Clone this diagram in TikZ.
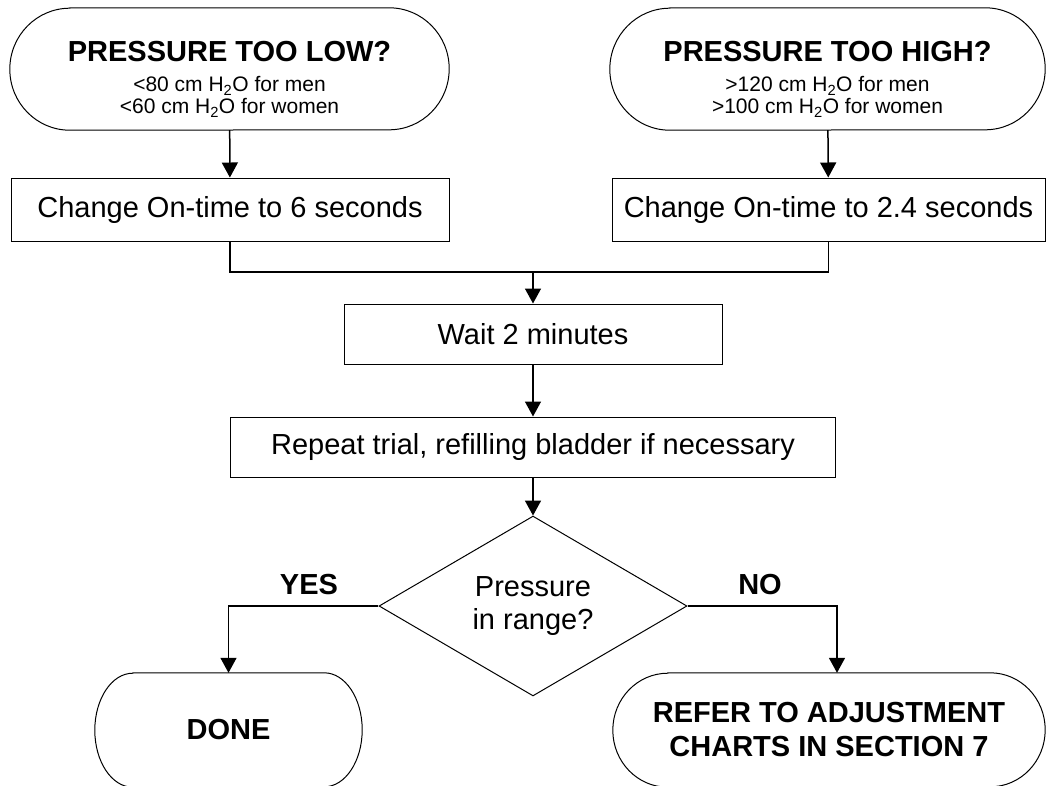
\documentclass[tikz,border=0pt]{standalone}
\usepackage{fontspec}
\setmainfont{Liberation Sans}
\usetikzlibrary{shapes.geometric,arrows.meta,calc}

\tikzset{
  stepbox/.style={draw, line width=1pt, inner sep=0pt, font=\fontsize{29}{33}\selectfont},
  term/.style={inner sep=0pt, align=center, font=\fontsize{29}{34}\selectfont\bfseries},
  link/.style={line width=1.5pt},
  arr/.style={link, -{Triangle[width=16pt,length=15pt]}},
}

\begin{document}
\begin{tikzpicture}[x=1pt, y=-1pt]
\useasboundingbox (0,0) rectangle (1047,785);

% start terminals
\node[term, minimum width=439pt, minimum height=122pt, font=\fontsize{21}{22}\selectfont] (low) at (229.5,69) {%
  {\fontsize{29}{33}\selectfont\bfseries\rule{0pt}{41pt}PRESSURE TOO LOW?}\\[8pt]
  <80 cm H\textsubscript{2}O for men\\
  <60 cm H\textsubscript{2}O for women};
\node[term, minimum width=435pt, minimum height=122pt, font=\fontsize{21}{22}\selectfont] (high) at (827.5,69) {%
  {\fontsize{29}{33}\selectfont\bfseries\rule{0pt}{41pt}PRESSURE TOO HIGH?}\\[8pt]
  >120 cm H\textsubscript{2}O for men\\
  >100 cm H\textsubscript{2}O for women};

% steps
\node[stepbox, minimum width=438pt, minimum height=63pt] (six) at (230,209.5) {Change On-time to 6 seconds};
\node[stepbox, minimum width=433pt, minimum height=63pt] (twofour) at (828.5,209.5) {Change On-time to 2.4 seconds};
\coordinate (join) at (533,272);
\node[stepbox, minimum width=378pt, minimum height=60pt] (wait) at (533,334) {Wait 2 minutes};
\node[stepbox, minimum width=605pt, minimum height=60pt] (repeat) at (533,447) {Repeat trial, refilling bladder if necessary};
\node[stepbox, diamond, minimum width=308pt, minimum height=158pt, align=center] (check) at (533,606) {Pressure\\in range?};

% end terminals
\node[term, minimum width=267pt, minimum height=114pt] (done) at (228.5,730) {DONE};
\node[term, minimum width=432pt, minimum height=114pt] (refer) at (829,730) {REFER TO ADJUSTMENT\\CHARTS IN SECTION 7};

% terminal outlines
\foreach \t/\rx/\ry in {low/60/61, high/60/61, done/38/57, refer/55/57}
  \draw[line width=1pt] ($(\t.north west)+(\rx,0)$) -- ($(\t.north east)-(\rx,0)$)
    arc[start angle=90, end angle=-90, x radius=\rx pt, y radius=\ry pt]
    -- ($(\t.south west)+(\rx,0)$)
    arc[start angle=270, end angle=90, x radius=\rx pt, y radius=\ry pt] -- cycle;

% connectors
\draw[arr] (low) -- (six);
\draw[arr] (high) -- (twofour);
\draw[link] (six) |- (join) -| (twofour);
\draw[arr] (join) -- (wait);
\draw[arr] (wait) -- (repeat);
\draw[arr] (repeat) -- (check);
\draw[arr] (check) -| (done);
\draw[arr] (check) -| ([xshift=8pt]refer.north);
\node[font=\fontsize{29}{33}\selectfont\bfseries] (yes) at (309,585) {YES};
\node[font=\fontsize{29}{33}\selectfont\bfseries] (no) at (760,585) {NO};
\end{tikzpicture}
\end{document}
